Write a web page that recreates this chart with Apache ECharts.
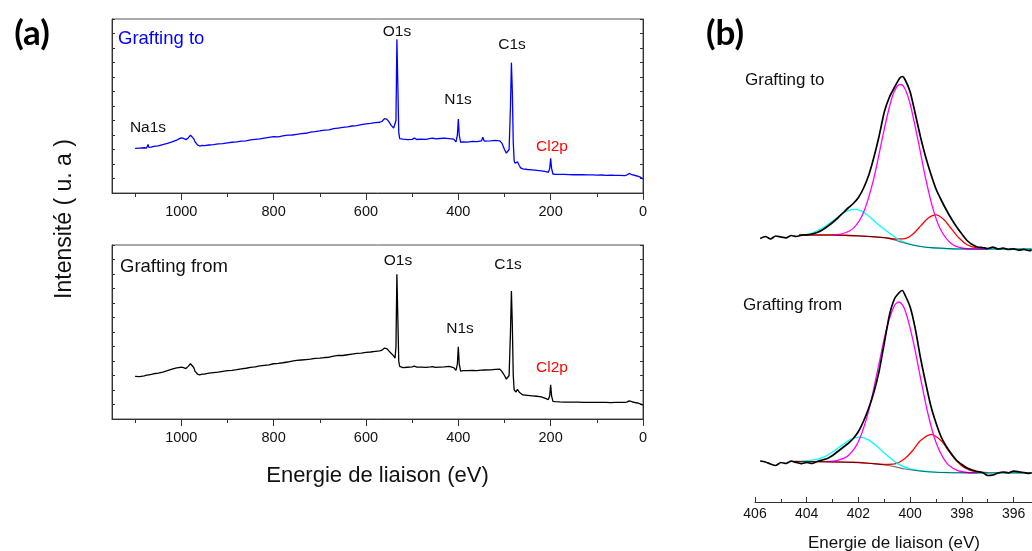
<!DOCTYPE html>
<html>
<head>
<meta charset="utf-8">
<script src="https://cdn.jsdelivr.net/npm/echarts@6.0.0/dist/echarts.min.js"></script>
<style>
  html, body { margin: 0; padding: 0; background: #fff; }
  #chart { width: 1032px; height: 551px; }
</style>
</head>
<body>
<div id="chart"></div>
<script>
// ---- (a) survey spectra : binding energy (eV) ----
const surveyEnergy = [
  1100,1090,1080,1075,1072,1070,1065,1060,1050,1040,
  1030,1020,1010,1005,1000,995,990,985,980,977,
  973,970,965,960,955,950,940,930,920,910,
  900,890,880,870,860,850,840,830,820,810,
  800,790,780,770,760,750,740,730,720,710,
  700,690,680,670,660,650,640,630,620,610,
  600,590,580,570,565,560,555,550,545,540,
  537,535,533,531,529,527,525,520,510,500,
  495,490,480,470,460,455,450,440,430,420,
  410,405,402,400,398,395,390,380,370,360,
  350,347,344,340,330,320,310,305,300,296,
  293,290,287,285,283,281,279,277,275,272,
  270,268,265,260,250,240,230,220,210,205,
  202,200,198,195,190,180,170,160,150,140,
  130,120,110,100,90,80,70,60,50,40,
  35,30,27,24,20,15,10,5,0
];
// intensity, "Grafting to"
const surveyGraftTo = [
  30.8,31.0,31.2,31.0,33.5,31.5,31.6,32.2,32.5,33.4,
  34.2,35.2,36.4,37.3,38.0,37.6,36.8,38.0,39.8,39.5,
  37.5,35.2,33.2,32.4,32.8,32.6,33.1,33.4,33.9,34.1,
  34.6,35.0,35.2,35.8,36.0,36.6,37.0,37.3,37.9,38.4,
  38.9,38.7,39.4,39.9,40.0,40.5,41.0,41.2,42.0,42.3,
  42.8,43.4,43.6,44.4,44.8,45.2,45.6,46.2,46.5,47.2,
  47.6,48.0,48.5,48.8,49.5,51.3,51.0,49.0,46.5,44.8,
  43.8,50.0,106.0,75.0,42.0,37.5,37.0,37.2,36.8,37.0,
  37.8,36.9,37.2,37.0,37.6,37.9,37.3,37.6,37.8,37.5,
  37.2,35.2,40.0,51.0,40.0,35.0,35.3,35.1,35.6,35.4,
  35.9,38.5,35.8,35.4,36.0,36.3,36.0,34.0,30.0,27.5,
  26.5,30.0,60.0,89.9,70.0,35.0,22.0,20.5,19.8,21.5,
  22.5,19.0,17.3,16.6,16.2,15.9,15.6,15.3,14.7,14.3,
  17.0,24.0,17.0,13.1,12.9,12.8,12.9,12.7,12.6,12.7,
  12.6,12.5,12.5,12.3,12.4,12.2,12.3,12.1,12.1,12.0,
  12.4,13.5,14.3,12.6,12.2,11.9,11.5,10.8,9.7
];
// intensity, "Grafting from"
const surveyGraftFrom = [
  29.4,29.2,29.8,30.2,30.8,30.5,30.8,31.2,31.7,32.4,
  33.3,34.4,35.2,35.5,35.8,35.4,34.8,36.3,38.1,37.6,
  35.5,32.8,31.0,30.5,31.0,30.9,31.6,32.0,32.4,32.9,
  33.3,33.6,34.0,34.6,35.0,35.6,35.9,36.6,37.0,37.4,
  38.1,38.4,38.8,39.3,39.9,40.4,40.7,41.0,41.3,41.8,
  42.0,42.4,42.6,43.4,43.9,43.8,44.3,44.8,45.2,45.5,
  45.9,46.2,46.6,47.0,47.5,48.9,48.6,46.8,45.2,43.5,
  42.0,50.0,99.8,70.0,40.0,36.3,35.6,35.5,35.7,35.9,
  36.4,35.8,35.8,35.6,35.9,36.1,35.6,35.8,36.0,36.3,
  35.4,33.5,38.0,49.8,38.0,33.0,33.3,33.4,33.6,33.3,
  33.7,34.0,33.8,33.5,33.9,34.2,34.4,32.5,30.0,27.5,
  26.4,30.0,60.0,88.3,65.0,30.0,20.0,19.2,18.6,20.5,
  21.8,18.5,17.2,16.6,16.3,16.0,15.7,15.2,14.0,13.4,
  16.0,23.6,16.0,12.2,12.0,11.8,11.7,11.7,11.6,11.6,
  11.5,11.5,11.4,11.4,11.4,11.4,11.3,11.4,11.4,11.4,
  11.6,12.5,12.9,11.9,11.5,11.2,10.9,10.3,9.6
];
const surveyMajorTicks = [0, 200, 400, 600, 800, 1000];
const surveyMinorTicks = [100, 300, 500, 700, 900, 1100];

// ---- (b) N1s high resolution ----
const n1sMajorTicks = [396, 398, 400, 402, 404, 406];
const n1sMinorTicks = [395, 397, 399, 401, 403, 405];

const n1sEnergy = [
  405.8,405.6,405.4,405.2,405.0,404.8,404.6,404.4,404.2,404.0,
  403.8,403.6,403.4,403.2,403.0,402.8,402.6,402.4,402.2,402.0,
  401.8,401.6,401.4,401.2,401.0,400.8,400.6,400.4,400.3,400.2,
  400.0,399.8,399.6,399.4,399.2,399.0,398.8,398.6,398.4,398.2,
  398.0,397.8,397.6,397.4,397.2,397.0,396.8,396.6,396.4,396.2,
  396.0,395.8,395.6,395.4,395.3
];
const n1sToRaw = [
  21.5,23.5,21.0,24.0,23.0,22.2,24.5,23.5,24.8,25.2,
  26.0,27.5,30.0,33.5,37.5,42.0,47.0,52.0,56.5,62.5,
  72.0,85.0,103.0,124.0,148.0,163.0,173.0,182.0,183.5,180.5,
  168.0,146.0,123.0,103.0,86.0,71.0,60.0,50.0,41.0,33.0,
  26.0,19.5,15.5,13.0,12.5,11.5,12.8,11.0,11.8,10.5,
  11.2,9.8,10.6,9.3,9.8
];
const n1sFromRaw = [
  41.0,40.0,38.0,36.5,39.5,38.5,40.8,39.6,38.4,39.5,
  38.5,40.5,42.0,43.5,46.5,50.5,54.5,58.5,63.5,70.5,
  81.0,94.0,110.0,131.0,159.0,187.0,203.5,210.0,211.5,207.0,
  195.0,173.0,144.0,119.0,96.0,79.0,65.0,55.5,48.0,41.5,
  37.5,34.0,32.0,30.5,29.5,26.5,27.0,29.0,30.0,29.2,
  30.8,30.2,29.5,28.6,29.2
];

// fitted components [eV, intensity]
const toBackground = [[404.3,25.0],[403.5,25.0],[403.0,25.0],[402.5,24.7],[402.0,24.2],[401.5,23.3],[401.0,22.3],[400.6,20.0],[400.3,17.5],[400.0,15.5],[399.6,13.5],[399.2,12.3],[398.6,11.5],[398.0,11.0],[397.0,11.0],[395.3,11.0]];
const toCyan = [[404.0,25.6],[403.8,27.0],[403.4,31.7],[403.0,38.9],[402.6,46.8],[402.4,49.4],[402.14,50.7],[401.9,49.2],[401.7,45.9],[401.3,37.1],[400.9,28.8],[400.5,21.3],[400.1,16.7],[399.6,13.6],[399.0,12.0],[398.0,11.0],[396.0,11.0],[395.3,11.0]];
const toMagenta = [[403.0,25.1],[402.6,26.5],[402.2,31.6],[401.8,47.8],[401.4,82.2],[401.0,131.2],[400.7,162.7],[400.5,173.8],[400.36,175.5],[400.2,171.2],[400.0,156.0],[399.7,120.3],[399.4,81.4],[399.1,49.6],[398.8,29.3],[398.4,16.2],[398.0,12.0],[397.5,11.0],[397.0,11.0]];
const toRed = [[404.3,25.0],[403.0,25.0],[402.0,24.2],[401.0,22.4],[400.6,21.0],[400.2,21.4],[399.9,25.8],[399.6,33.9],[399.3,42.0],[399.0,45.2],[398.7,40.6],[398.4,31.1],[398.1,21.7],[397.8,15.3],[397.4,11.9],[397.0,11.0]];

const fromBackground = [[404.5,40.5],[403.0,40.2],[402.0,39.5],[401.5,38.5],[401.0,37.0],[400.6,35.3],[400.2,33.0],[399.8,31.5],[399.2,30.0],[398.5,29.3],[397.0,29.2],[395.3,29.2]];
const fromCyan = [[404.2,41.0],[403.8,41.8],[403.4,44.4],[403.0,50.0],[402.6,57.6],[402.3,62.7],[401.95,64.9],[401.6,61.9],[401.3,55.9],[400.9,46.8],[400.5,38.6],[400.1,33.8],[399.7,31.5],[399.0,29.8],[398.0,29.3],[396.0,29.2],[395.3,29.2]];
const fromMagenta = [[403.2,40.5],[402.8,41.7],[402.4,46.2],[402.0,60.5],[401.6,91.6],[401.2,138.8],[400.9,174.5],[400.6,197.0],[400.43,200.0],[400.2,192.0],[399.9,162.8],[399.6,124.0],[399.3,87.0],[399.0,59.5],[398.6,39.4],[398.2,31.8],[397.8,29.5],[397.4,29.2]];
const fromRed = [[404.5,40.5],[403.0,40.2],[402.0,39.5],[401.5,38.6],[401.0,37.7],[400.6,38.2],[400.2,43.6],[399.9,51.5],[399.6,61.4],[399.18,67.7],[398.8,61.2],[398.5,50.8],[398.2,41.0],[397.9,34.4],[397.5,30.5],[397.0,29.3]];

(function () {
  const chart = echarts.init(document.getElementById('chart'));
  const FONT = '"Liberation Sans", Arial, sans-serif';
  const AX = '#333';
  const zip = (xs, ys) => xs.map((x, i) => [x, ys[i]]);
  const plain = v => String(v);   // no thousands separator

  // survey x axes : one with labels + long ticks, one with short ticks
  function surveyX(grid, withName) {
    return [{
      gridIndex: grid, type: 'value', min: 0, max: 1150, inverse: true, position: 'bottom',
      axisLine: { show: true, onZero: false, lineStyle: { color: AX, width: 1 } },
      axisTick: { show: true, inside: false, length: 7, customValues: surveyMajorTicks, lineStyle: { color: AX } },
      axisLabel: { customValues: surveyMajorTicks, formatter: plain, fontSize: 14.5, color: '#111', margin: 11, fontFamily: FONT },
      splitLine: { show: false },
      name: withName ? 'Energie de liaison (eV)' : '',
      nameLocation: 'middle', nameGap: 46,
      nameTextStyle: { fontSize: 22, color: '#111', fontFamily: FONT }
    }, {
      gridIndex: grid, type: 'value', min: 0, max: 1150, inverse: true, position: 'bottom',
      axisLine: { show: false, onZero: false },
      axisTick: { show: true, inside: false, length: 4, customValues: surveyMinorTicks, lineStyle: { color: AX } },
      axisLabel: { show: false },
      splitLine: { show: false }
    }];
  }
  function surveyY(grid, pos) {
    return {
      gridIndex: grid, type: 'value', min: 0, max: 120, interval: 10, position: pos,
      axisLine: { show: true, onZero: false, lineStyle: { color: AX } },
      axisTick: { show: true, inside: true, length: 3, lineStyle: { color: AX } },
      axisLabel: { show: false },
      splitLine: { show: false }
    };
  }
  function line(xi, yi, data, color, width, extra) {
    return Object.assign({
      type: 'line', xAxisIndex: xi, yAxisIndex: yi, data: data,
      symbol: 'none', showSymbol: false, silent: true,
      lineStyle: { color: color, width: width }
    }, extra || {});
  }
  function txt(text, x, y, size, color, align, weight, family) {
    return {
      type: 'text', x: x, y: y, silent: true,
      style: {
        text: text, fill: color || '#111', fontSize: size, fontWeight: weight || 'normal',
        fontFamily: family || FONT, align: align || 'center', verticalAlign: 'middle'
      }
    };
  }

  const gridBase = { containLabel: false, outerBoundsMode: 'none' };

  const option = {
    animation: false,
    backgroundColor: '#fff',
    grid: [
      Object.assign({ left: 112, top: 19, width: 531, height: 174, show: true, borderColor: '#555', borderWidth: 1 }, gridBase),
      Object.assign({ left: 112, top: 245, width: 531, height: 174, show: true, borderColor: '#555', borderWidth: 1 }, gridBase),
      Object.assign({ left: 755, top: 70, width: 278, height: 190 }, gridBase),
      Object.assign({ left: 755, top: 280, width: 278, height: 222 }, gridBase)
    ],
    xAxis: [
      ...surveyX(0, false),            // 0,1
      ...surveyX(1, true),             // 2,3
      {                                // 4 : hidden, top N1s panel
        gridIndex: 2, type: 'value', min: 395.25, max: 406, inverse: true, show: false
      },
      {                                // 5 : N1s axis with labels
        gridIndex: 3, type: 'value', min: 395.25, max: 406, inverse: true, position: 'bottom',
        axisLine: { show: true, onZero: false, lineStyle: { color: AX, width: 1 } },
        axisTick: { show: true, inside: true, length: 5, customValues: n1sMajorTicks, lineStyle: { color: AX } },
        axisLabel: { customValues: n1sMajorTicks, formatter: plain, fontSize: 14, color: '#111', margin: 5, fontFamily: FONT },
        splitLine: { show: false },
        name: 'Energie de liaison (eV)', nameLocation: 'middle', nameGap: 33,
        nameTextStyle: { fontSize: 17, color: '#111', fontFamily: FONT }
      },
      {                                // 6 : N1s minor ticks
        gridIndex: 3, type: 'value', min: 395.25, max: 406, inverse: true, position: 'bottom',
        axisLine: { show: false, onZero: false },
        axisTick: { show: true, inside: true, length: 3, customValues: n1sMinorTicks, lineStyle: { color: AX } },
        axisLabel: { show: false },
        splitLine: { show: false }
      }
    ],
    yAxis: [
      surveyY(0, 'left'), surveyY(0, 'right'),   // 0,1
      surveyY(1, 'left'), surveyY(1, 'right'),   // 2,3
      { gridIndex: 2, type: 'value', min: 0, max: 190, show: false },  // 4
      { gridIndex: 3, type: 'value', min: 0, max: 222, show: false }   // 5
    ],
    series: [
      line(0, 0, zip(surveyEnergy, surveyGraftTo), '#0000ff', 1.3),
      line(2, 2, zip(surveyEnergy, surveyGraftFrom), '#000000', 1.3),

      line(4, 4, toRed, '#ff0000', 1.3, { smooth: 0.3 }),
      line(4, 4, toCyan, '#00ffff', 1.3, { smooth: 0.3 }),
      line(4, 4, toMagenta, '#ff00ff', 1.3, { smooth: 0.3 }),
      line(4, 4, toBackground, '#000000', 1.2, { smooth: 0.3, lineStyle: { color: '#000', width: 1.2, opacity: 0.55 } }),
      line(4, 4, zip(n1sEnergy, n1sToRaw), '#000000', 1.7, { smooth: 0.2 }),

      line(5, 5, fromRed, '#ff0000', 1.3, { smooth: 0.3 }),
      line(5, 5, fromCyan, '#00ffff', 1.3, { smooth: 0.3 }),
      line(5, 5, fromMagenta, '#ff00ff', 1.3, { smooth: 0.3 }),
      line(5, 5, fromBackground, '#000000', 1.2, { smooth: 0.3, lineStyle: { color: '#000', width: 1.2, opacity: 0.55 } }),
      line(5, 5, zip(n1sEnergy, n1sFromRaw), '#000000', 1.7, { smooth: 0.2 })
    ],
    graphic: [
      txt('(a)', 32, 34, 35, '#000', 'center', 'bold', 'Lato, "Open Sans", sans-serif'),
      txt('(b)', 725, 34, 35, '#000', 'center', 'bold', 'Lato, "Open Sans", sans-serif'),
      Object.assign(txt('Intensité ( u. a )', 65, 219, 23, '#111'), { rotation: Math.PI / 2 }),

      txt('Grafting to', 118, 39, 18.5, '#0000ff', 'left'),
      txt('O1s', 397, 32, 15.5),
      txt('N1s', 458, 100, 15.5),
      txt('C1s', 512, 45, 15.5),
      txt('Na1s', 148, 128, 15.5),
      txt('Cl2p', 552, 147, 15.5, '#ff0000'),

      txt('Grafting from', 120, 267, 18.5, '#111', 'left'),
      txt('O1s', 398, 261, 15.5),
      txt('N1s', 460, 329, 15.5),
      txt('C1s', 508, 265, 15.5),
      txt('Cl2p', 552, 368, 15.5, '#ff0000'),

      txt('Grafting to', 745, 80, 17, '#111', 'left'),
      txt('Grafting from', 743, 305, 17, '#111', 'left')
    ]
  };

  chart.setOption(option);
})();
</script>
</body>
</html>
